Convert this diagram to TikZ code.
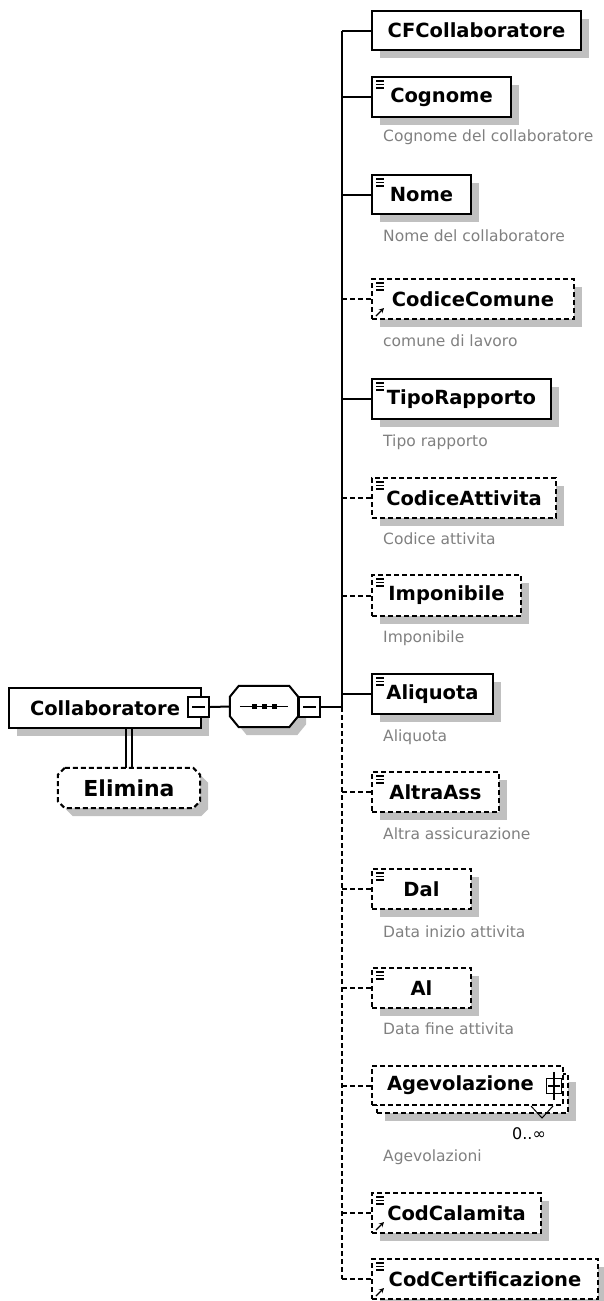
\documentclass[tikz,border=0pt]{standalone}
\usepackage{fontspec}
\setmainfont{DejaVu Sans}
\usetikzlibrary{shadows,arrows.meta,calc}
\definecolor{shadowc}{RGB}{192,192,192}
\definecolor{docc}{RGB}{128,128,128}
\tikzset{
 x=1pt,y=-1pt,
 ebox/.style={draw, line width=2pt, fill=white, inner sep=0pt, anchor=north west,
   font=\fontsize{19.5}{20}\selectfont\bfseries},
 box/.style={ebox, drop shadow={shadow xshift=8pt,shadow yshift=-8pt,opacity=1,fill=shadowc}},
 opt/.style={dash pattern=on 5pt off 3pt},
 conn/.style={line width=2pt},
 optconn/.style={conn, dash pattern=on 5pt off 3pt},
 doc/.style={anchor=base west, text=docc, font=\fontsize{15.5}{16}\selectfont, inner sep=0pt},
 icon/.style={line width=1.3pt},
 minbox/.style={draw, line width=2pt, fill=white, minimum width=21pt, minimum height=20pt, inner sep=0pt},
}
\newcommand\eqicon[1]{\foreach \d in {5,8.5,12}{\draw[icon] ([shift={(5,\d)}]#1.north west) -- ++(8,0);}}
\newcommand\refarrow[1]{\draw[icon,-{Stealth[length=5pt,width=5pt]}] ([shift={(5,-4)}]#1.south west) -- ++(8,-8);}
\newcommand\chpath[5]{($(#1.north west)+(#2+#4,#5)$) -- ($(#1.north east)+(-#2+#4,#5)$) -- ($(#1.north east)+(#4,#3+#5)$) -- ($(#1.south east)+(#4,-#3+#5)$) -- ($(#1.south east)+(-#2+#4,#5)$) -- ($(#1.south west)+(#2+#4,#5)$) -- ($(#1.south west)+(#4,-#3+#5)$) -- ($(#1.north west)+(#4,#3+#5)$) -- cycle}
\begin{document}
\begin{tikzpicture}
\useasboundingbox (0,0) rectangle (604,1301);

% left part
\node[box, minimum width=192pt, minimum height=40pt] (coll) at (8,687) {Collaboratore};
\node[minbox] (collmin) at (198.5,707) {};
\draw[icon] ([xshift=-6.5pt]collmin.center) -- ([xshift=6.5pt]collmin.center);

\node[minimum width=68pt, minimum height=41pt, inner sep=0pt] (seq) at (264,706.5) {};
\fill[shadowc] \chpath{seq}{9}{11}{8}{8};
\filldraw[fill=white, line width=2pt] \chpath{seq}{9}{11}{0}{0};
\draw[line width=1.5pt] ([xshift=10pt]seq.west) -- ([xshift=-10pt]seq.east);
\foreach \dx in {-10,0,10}{\fill ([shift={(\dx-2.5,-2.5)}]seq.center) rectangle ++(5,5);}
\node[minbox] (seqmin) at (309.5,707) {};
\draw[icon] ([xshift=-6.5pt]seqmin.center) -- ([xshift=6.5pt]seqmin.center);
\draw[conn] (collmin.east) -- (seq.west);

\node[minimum width=142pt, minimum height=40pt, inner sep=0pt] (elim) at (129,788) {};
\fill[shadowc] \chpath{elim}{7}{7}{8}{8};
\filldraw[fill=white, line width=2pt, opt] \chpath{elim}{7}{7}{0}{0};
\node[font=\fontsize{22}{22}\selectfont\bfseries, inner sep=0pt] (elimtxt) at (elim.center) {Elimina};
\draw[conn] ([xshift=-3pt]elim.north) -- ([xshift=-3pt]elim.north |- coll.south);
\draw[conn] ([xshift=3pt]elim.north) -- ([xshift=3pt]elim.north |- coll.south);

% children
\node[box, minimum width=209pt, minimum height=39pt] (cf) at (371,10) {CFCollaboratore};
\node[box, minimum width=139pt, minimum height=40pt] (cog) at (371,76) {Cognome};
\node[box, minimum width=99pt, minimum height=39pt] (nome) at (371,174) {Nome};
\node[box, opt, minimum width=202pt, minimum height=40pt] (ccom) at (371,278) {CodiceComune};
\node[box, minimum width=179pt, minimum height=40pt] (tipo) at (371,378) {TipoRapporto};
\node[box, opt, minimum width=184pt, minimum height=40pt] (catt) at (371,477) {CodiceAttivita};
\node[box, opt, minimum width=149pt, minimum height=41pt] (imp) at (371,574) {Imponibile};
\node[box, minimum width=121pt, minimum height=40pt] (aliq) at (371,673) {Aliquota};
\node[box, opt, minimum width=127pt, minimum height=40pt] (altra) at (371,771) {AltraAss};
\node[box, opt, minimum width=99pt, minimum height=40pt] (dal) at (371,868) {Dal};
\node[box, opt, minimum width=99pt, minimum height=40pt] (al) at (371,967) {Al};
\node[box, opt, minimum width=191pt, minimum height=39pt] (agevback) at (376,1073) {};
\node[ebox, opt, minimum width=191pt, minimum height=39pt] (agev) at (371,1065) {Agevolazione\hspace*{14pt}};
\node[box, opt, minimum width=169pt, minimum height=40pt] (ccal) at (371,1192) {CodCalamita};
\node[box, opt, minimum width=226pt, minimum height=40pt] (ccert) at (371,1258) {CodCertificazione};

\eqicon{cog}\eqicon{nome}\eqicon{ccom}\eqicon{tipo}\eqicon{catt}\eqicon{imp}
\eqicon{aliq}\eqicon{altra}\eqicon{dal}\eqicon{al}\eqicon{ccal}\eqicon{ccert}
\refarrow{ccom}\refarrow{ccal}\refarrow{ccert}

% Agevolazione extras
\node[draw, line width=1.3pt, fill=white, minimum size=15pt, inner sep=0pt] (agevplus) at (554,1086) {};
\draw[icon] ([yshift=6pt]agevplus.north) -- ([yshift=-6pt]agevplus.south);
\draw[icon] ([xshift=2.5pt]agevplus.west) -- ([xshift=-2.5pt]agevplus.east);
\draw[line width=1pt] ($(agev.south west)+(160,0)$) -- ++(11,12) -- ++(11,-12);
\node[anchor=base, font=\fontsize{16}{16}\selectfont, inner sep=0pt] (agevocc) at (529,1139) {0..∞};

% docs
\node[doc] (cogdoc) at (383,141.5) {Cognome del collaboratore};
\node[doc] (nomedoc) at (383,241.5) {Nome del collaboratore};
\node[doc] (ccomdoc) at (383,346.5) {comune di lavoro};
\node[doc] (tipodoc) at (383,446.5) {Tipo rapporto};
\node[doc] (cattdoc) at (383,544.5) {Codice attivita};
\node[doc] (impdoc) at (383,642.5) {Imponibile};
\node[doc] (aliqdoc) at (383,741.5) {Aliquota};
\node[doc] (altradoc) at (383,839.5) {Altra assicurazione};
\node[doc] (daldoc) at (383,937.5) {Data inizio attivita};
\node[doc] (aldoc) at (383,1034.5) {Data fine attivita};
\node[doc] (agevdoc) at (383,1161.5) {Agevolazioni};

% trunk
\coordinate (tjoin) at (342,707);
\draw[conn] (seqmin.east) -- (tjoin);
\draw[conn] (tjoin |- cf.west) -- (tjoin);
\draw[optconn] (tjoin) -- (tjoin |- ccert.west);
\foreach \n in {cf,cog,nome,tipo,aliq}{\draw[conn] (tjoin |- \n.west) -- (\n.west);}
\foreach \n in {ccom,catt,imp,altra,dal,al,agev,ccal,ccert}{\draw[optconn] (tjoin |- \n.west) -- (\n.west);}
\end{tikzpicture}
\end{document}
